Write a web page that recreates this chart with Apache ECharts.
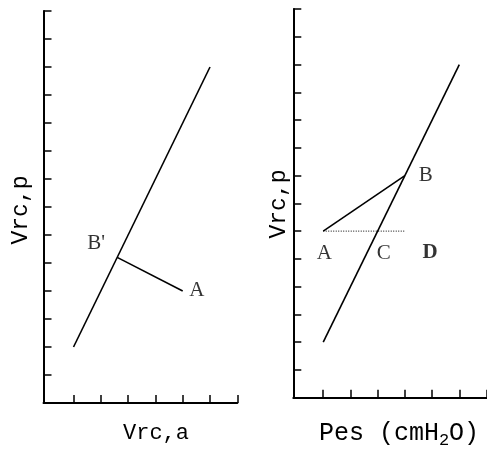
<!DOCTYPE html>
<html>
<head>
<meta charset="utf-8">
<script src="https://cdn.jsdelivr.net/npm/echarts@6/dist/echarts.min.js"></script>
<style>
  html, body { margin: 0; padding: 0; background: #fff; }
  #chart { width: 487px; height: 452px; }
</style>
</head>
<body>
<div id="chart"></div>
<script>
// Tick positions on both horizontal axes (the origin itself carries no tick)
const xTicks = [1, 2, 3, 4, 5, 6, 7];
const xRange = [-0.1, 7];
const yRange = [0, 14];

// Rib-cage relaxation line (same in both panels)
const relaxLine = [[1, 2], [6, 12]];

// Left panel: A and its perpendicular foot B' on the relaxation line
const leftSegment = [[2.6, 5.2], [5, 4]];
const leftPoints = [
  { name: "B'", value: [2.6, 5.2] },
  { name: 'A', value: [5, 4] }
];

// Right panel: A -> B, and the dotted constant-volume line through A and C
const rightSegment = [[1, 6], [4, 8]];
const rightDotted = [[1, 6], [4, 6]];
const rightPoints = [
  { name: 'A', value: [1, 6] },
  { name: 'B', value: [4, 8] },
  { name: 'C', value: [3, 6] },
  { name: 'D', value: [5, 6] }
];

// Axis titles
const leftXTitle = 'Vrc,a';
const yTitle = 'Vrc,p';

// Label offsets (pixels) from each point
const leftOffsets = { "B'": [-21, -14], 'A': [14, -1] };
const rightOffsets = { 'A': [1, 22], 'B': [21, 0], 'C': [6, 22], 'D': [-2, 21] };

const chart = echarts.init(document.getElementById('chart'), null, { renderer: 'canvas' });

const axisStyle = { lineStyle: { color: '#000', width: 2 } };
const tickStyle = { inside: true, length: 8, lineStyle: { color: '#000', width: 1.5 } };

function xAxisDef(gridIndex) {
  return {
    type: 'value', gridIndex, min: xRange[0], max: xRange[1],
    axisLine: { show: true, onZero: false, ...axisStyle },
    axisTick: { show: true, ...tickStyle, customValues: xTicks },
    axisLabel: { show: false },
    splitLine: { show: false }
  };
}
function yAxisDef(gridIndex) {
  return {
    type: 'value', gridIndex, min: yRange[0], max: yRange[1], interval: 1,
    axisLine: { show: true, onZero: false, ...axisStyle },
    axisTick: { show: true, ...tickStyle },
    axisLabel: { show: false },
    splitLine: { show: false }
  };
}

function pointLabels(points, offsets, idx, boldSet) {
  return {
    type: 'scatter', xAxisIndex: idx, yAxisIndex: idx,
    symbolSize: 0, silent: true,
    data: points.map(p => ({
      name: p.name, value: p.value,
      label: {
        show: true, formatter: '{b}', position: 'inside',
        offset: offsets[p.name],
        fontFamily: 'Liberation Serif', fontSize: 21, color: '#000',
        fontWeight: boldSet.includes(p.name) ? 'bold' : 'normal'
      }
    }))
  };
}

const solid = { color: '#000', width: 1.6 };

chart.setOption({
  animation: false,
  backgroundColor: '#fff',
  grid: [
    { left: 43.5, top: 11, width: 193.8, height: 392 },
    { left: 293.3, top: 9, width: 193.2, height: 388.7 }
  ],
  xAxis: [xAxisDef(0), xAxisDef(1)],
  yAxis: [yAxisDef(0), yAxisDef(1)],
  series: [
    { type: 'line', xAxisIndex: 0, yAxisIndex: 0, data: relaxLine, showSymbol: false, lineStyle: solid },
    { type: 'line', xAxisIndex: 0, yAxisIndex: 0, data: leftSegment, showSymbol: false, lineStyle: solid },
    pointLabels(leftPoints, leftOffsets, 0, []),
    { type: 'line', xAxisIndex: 1, yAxisIndex: 1, data: relaxLine, showSymbol: false, lineStyle: solid },
    { type: 'line', xAxisIndex: 1, yAxisIndex: 1, data: rightSegment, showSymbol: false, lineStyle: solid },
    { type: 'line', xAxisIndex: 1, yAxisIndex: 1, data: rightDotted, showSymbol: false,
      lineStyle: { color: '#000', width: 1, type: [1, 1.5] } },
    pointLabels(rightPoints, rightOffsets, 1, ['D'])
  ],
  graphic: [
    { type: 'text', x: 156, y: 433, style: { text: leftXTitle, fontFamily: 'Liberation Mono', fontSize: 22, fill: '#000', align: 'center', verticalAlign: 'middle' } },
    { type: 'text', x: 399, y: 433, style: {
        text: 'Pes (cmH{s|2}O)', fontFamily: 'Liberation Mono', fontSize: 25, fill: '#000', align: 'center', verticalAlign: 'middle',
        rich: { s: { fontFamily: 'Liberation Mono', fontSize: 17, fill: '#000', padding: [15, 0, 0, 0] } } } },
    { type: 'text', x: 21, y: 210, rotation: Math.PI / 2, style: { text: yTitle, fontFamily: 'Liberation Mono', fontSize: 23, fill: '#000', align: 'center', verticalAlign: 'middle' } },
    { type: 'text', x: 279, y: 204, rotation: Math.PI / 2, style: { text: yTitle, fontFamily: 'Liberation Mono', fontSize: 23, fill: '#000', align: 'center', verticalAlign: 'middle' } }
  ]
});
</script>
</body>
</html>
